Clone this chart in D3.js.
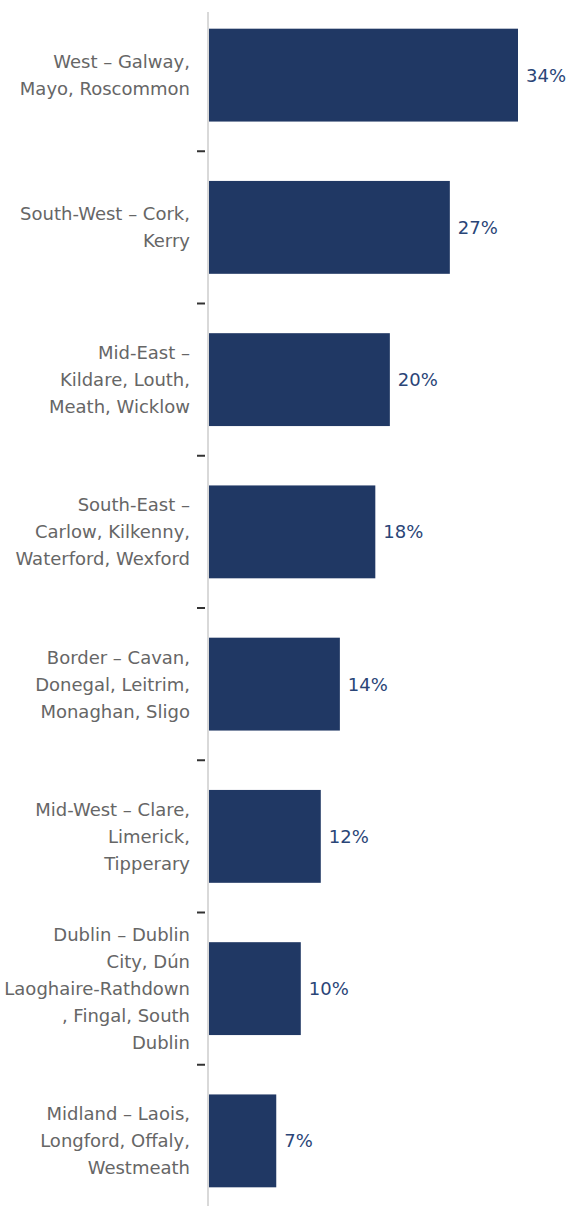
<!DOCTYPE html>
<html>
<head>
<meta charset="utf-8">
<script src="https://cdn.jsdelivr.net/npm/d3@7"></script>
<style>
  html, body { margin: 0; padding: 0; background: #fff; }
  svg { display: block; }
</style>
</head>
<body>
<div id="chart"></div>
<script>
// regions, each label already split in the lines shown on the chart
var regions = [
  ["West \u2013 Galway,", "Mayo, Roscommon"],
  ["South-West \u2013 Cork,", "Kerry"],
  ["Mid-East \u2013", "Kildare, Louth,", "Meath, Wicklow"],
  ["South-East \u2013", "Carlow, Kilkenny,", "Waterford, Wexford"],
  ["Border \u2013 Cavan,", "Donegal, Leitrim,", "Monaghan, Sligo"],
  ["Mid-West \u2013 Clare,", "Limerick,", "Tipperary"],
  ["Dublin \u2013 Dublin", "City, D\u00fan", "Laoghaire-Rathdown", ", Fingal, South", "Dublin"],
  ["Midland \u2013 Laois,", "Longford, Offaly,", "Westmeath"]
];
// bar lengths (labels are rounded)
var shares = [34.0, 26.5, 19.9, 18.3, 14.4, 12.3, 10.1, 7.4];
var shareLabels = ["34%", "27%", "20%", "18%", "14%", "12%", "10%", "7%"];

var width = 569, height = 1206;
var axisX = 208;
var font = "'DejaVu Sans', sans-serif";

var svgContainer = d3.select("div#chart").append("svg")
    .attr("width", width)
    .attr("height", height);

var ids = regions.map(function(d, i) { return i; });

var y = d3.scaleBand()
    .domain(ids)
    .range([-1, 1217])
    .paddingInner(0.39)
    .paddingOuter(0.195);

var x = d3.scaleLinear()
    .domain([0, 34])
    .range([axisX + 1, axisX + 310]);

// bars
svgContainer.selectAll("rect.bar")
    .data(shares)
    .enter().append("rect")
    .attr("class", "bar")
    .attr("x", x(0))
    .attr("y", function(d, i) { return y(i); })
    .attr("width", function(d) { return x(d) - x(0); })
    .attr("height", y.bandwidth())
    .attr("fill", "#203864");

// axis line
svgContainer.append("line")
    .attr("x1", axisX).attr("x2", axisX)
    .attr("y1", 12).attr("y2", height)
    .attr("stroke", "#d9d9d9")
    .attr("stroke-width", 2);

// ticks between categories
var gap = y.step() - y.bandwidth();
svgContainer.selectAll("line.tick")
    .data(ids.slice(1))
    .enter().append("line")
    .attr("class", "tick")
    .attr("x1", 197).attr("x2", 205)
    .attr("y1", function(i) { return y(i) - gap / 2; })
    .attr("y2", function(i) { return y(i) - gap / 2; })
    .attr("stroke", "#333")
    .attr("stroke-width", 2);

// category labels
var lineH = 27;
svgContainer.selectAll("text.cat")
    .data(regions)
    .enter().append("text")
    .attr("class", "cat")
    .attr("text-anchor", "end")
    .attr("font-family", font)
    .attr("font-size", 18)
    .attr("fill", "#666666")
    .each(function(lines, i) {
        var cy = y(i) + y.bandwidth() / 2;
        var t = d3.select(this);
        lines.forEach(function(s, j) {
            t.append("tspan")
                .attr("x", 190)
                .attr("y", cy + (j - (lines.length - 1) / 2) * lineH + 6.5)
                .text(s);
        });
    });

// value labels
svgContainer.selectAll("text.val")
    .data(shares)
    .enter().append("text")
    .attr("class", "val")
    .attr("x", function(d) { return x(d) + 8; })
    .attr("y", function(d, i) { return y(i) + y.bandwidth() / 2 + 6.5; })
    .attr("font-family", font)
    .attr("font-size", 18)
    .attr("fill", "#2a4577")
    .text(function(d, i) { return shareLabels[i]; });
</script>
</body>
</html>
